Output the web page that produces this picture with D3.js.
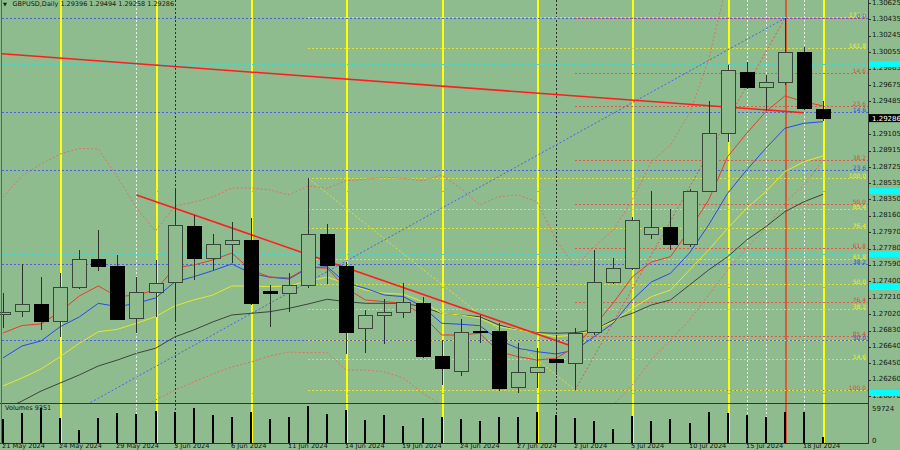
<!DOCTYPE html>
<html><head><meta charset="utf-8">
<script src="https://cdn.jsdelivr.net/npm/d3@7"></script>
<style>body{margin:0;background:#8FBC8F;overflow:hidden}svg{display:block}text{font-family:"DejaVu Sans",sans-serif}</style>
</head><body><svg id="c" width="900" height="450"></svg>
<script>
// ---------- data ----------
const dates = ["2024-05-21","2024-05-22","2024-05-23","2024-05-24","2024-05-27","2024-05-28","2024-05-29","2024-05-30","2024-05-31","2024-06-03","2024-06-04","2024-06-05","2024-06-06","2024-06-07","2024-06-10","2024-06-11","2024-06-12","2024-06-13","2024-06-14","2024-06-17","2024-06-18","2024-06-19","2024-06-20","2024-06-21","2024-06-24","2024-06-25","2024-06-26","2024-06-27","2024-06-28","2024-07-01","2024-07-02","2024-07-03","2024-07-04","2024-07-05","2024-07-08","2024-07-09","2024-07-10","2024-07-11","2024-07-12","2024-07-15","2024-07-16","2024-07-17","2024-07-18","2024-07-19"];
const opens  = [1.27019,1.27049,1.27127,1.26933,1.27332,1.27648,1.27570,1.26973,1.27274,1.27390,1.28034,1.27660,1.27822,1.27868,1.27281,1.27262,1.27358,1.27946,1.27578,1.26849,1.27003,1.27042,1.27146,1.26528,1.26354,1.26817,1.26817,1.26168,1.26347,1.26498,1.26451,1.26806,1.27385,1.27552,1.27946,1.28022,1.27822,1.28447,1.29116,1.29818,1.29644,1.29702,1.30054,1.29396];
const highs  = [1.27266,1.27602,1.27454,1.27494,1.27764,1.27995,1.27706,1.27454,1.27648,1.28459,1.28169,1.27949,1.28085,1.28131,1.27358,1.27494,1.28594,1.28065,1.27628,1.27069,1.27196,1.27385,1.27216,1.26721,1.26961,1.27011,1.26915,1.26690,1.26625,1.26780,1.26857,1.27764,1.27668,1.28150,1.28451,1.28235,1.28470,1.29493,1.29907,1.29945,1.29791,1.30448,1.30119,1.29494];
const lows   = [1.26860,1.26988,1.26837,1.26752,1.27312,1.27524,1.26953,1.26799,1.26991,1.26933,1.27416,1.27532,1.27610,1.27127,1.26868,1.27049,1.27320,1.27370,1.26559,1.26574,1.26675,1.26973,1.26509,1.26200,1.26304,1.26690,1.26134,1.26104,1.26168,1.26316,1.26142,1.26779,1.27370,1.27532,1.27891,1.27764,1.27802,1.28436,1.29018,1.29625,1.29386,1.29675,1.29386,1.29258];
const closes = [1.27042,1.27127,1.26933,1.27332,1.27648,1.27578,1.26964,1.27274,1.27378,1.28042,1.27660,1.27830,1.27876,1.27146,1.27262,1.27358,1.27946,1.27587,1.26810,1.27003,1.27042,1.27153,1.26528,1.26393,1.26810,1.26806,1.26162,1.26347,1.26400,1.26458,1.26799,1.27385,1.27552,1.28111,1.28022,1.27822,1.28447,1.29108,1.29849,1.29649,1.29702,1.30054,1.29405,1.29286];
const volumes = [38740,48910,56010,40350,20980,40350,48910,46810,51170,50040,56010,45680,41480,50040,38740,41480,59724,46810,53270,37130,45680,27440,40350,41970,38260,35510,41480,42450,50040,45680,39870,35510,22110,43580,35510,38740,32280,50040,48910,44710,41970,49550,50040,9351];

const maRed    = [1.26802,1.26889,1.26907,1.27049,1.27231,1.27347,1.27223,1.27242,1.27300,1.27555,1.27590,1.27648,1.27729,1.27532,1.27451,1.27439,1.27563,1.27552,1.27320,1.27185,1.27165,1.27146,1.27011,1.26779,1.26779,1.26799,1.26586,1.26528,1.26489,1.26509,1.26640,1.26883,1.27150,1.27451,1.27625,1.27686,1.27995,1.28343,1.28845,1.29116,1.29366,1.29548,1.29482,1.29432];
const maBlue   = [1.26513,1.26652,1.26710,1.26875,1.26988,1.27146,1.27107,1.27146,1.27208,1.27393,1.27454,1.27524,1.27602,1.27494,1.27448,1.27428,1.27555,1.27570,1.27378,1.27320,1.27242,1.27223,1.27107,1.26915,1.26903,1.26887,1.26721,1.26625,1.26586,1.26559,1.26605,1.26759,1.26915,1.27185,1.27393,1.27494,1.27729,1.28053,1.28421,1.28691,1.28942,1.29174,1.29232,1.29250];
const maYellow = [1.26188,1.26281,1.26385,1.26528,1.26683,1.26817,1.26845,1.26915,1.26991,1.27115,1.27185,1.27242,1.27347,1.27347,1.27339,1.27347,1.27405,1.27448,1.27378,1.27300,1.27262,1.27251,1.27165,1.27030,1.27011,1.26973,1.26875,1.26837,1.26799,1.26759,1.26779,1.26837,1.26933,1.27088,1.27223,1.27300,1.27532,1.27764,1.28015,1.28247,1.28439,1.28671,1.28787,1.28853];
const maGray   = [1.25910,1.26014,1.26130,1.26223,1.26316,1.26420,1.26489,1.26567,1.26625,1.26756,1.26837,1.26930,1.27011,1.27030,1.27049,1.27088,1.27138,1.27193,1.27165,1.27146,1.27146,1.27146,1.27107,1.27030,1.27011,1.26991,1.26895,1.26837,1.26806,1.26799,1.26806,1.26837,1.26953,1.27030,1.27127,1.27185,1.27358,1.27532,1.27686,1.27880,1.28034,1.28207,1.28323,1.28409];
const bandUpper = [1.28378,1.28621,1.28760,1.28876,1.28940,1.28934,1.28610,1.28250,1.27984,1.28273,1.28320,1.28378,1.28482,1.28482,1.28459,1.28401,1.28505,1.28479,1.28567,1.28583,1.28606,1.28594,1.28567,1.28633,1.28479,1.28285,1.28381,1.28401,1.28323,1.27880,1.27570,1.27802,1.27995,1.28343,1.28787,1.28980,1.29347,1.29965,1.30892,1.31123,1.31297,1.31471,1.31471,1.31413];
const bandLower = [1.25563,1.25563,1.25563,1.25620,1.25678,1.25736,1.25794,1.25910,1.26026,1.26142,1.26235,1.26327,1.26408,1.26466,1.26536,1.26582,1.26574,1.26574,1.26374,1.26374,1.26350,1.26281,1.26107,1.25968,1.25910,1.25887,1.25794,1.25736,1.25736,1.25794,1.25736,1.25794,1.25968,1.26200,1.26489,1.26721,1.26953,1.27242,1.27532,1.27787,1.28019,1.28308,1.28517,1.28806];

const priceTicks = [1.30625,1.30435,1.30245,1.30055,1.29865,1.29675,1.29485,1.29105,1.28915,1.28725,1.28535,1.28350,1.28160,1.27970,1.27780,1.27590,1.27400,1.27210,1.27020,1.26830,1.26640,1.26450,1.26260,1.26070];
const dateLabelIdx = [0,3,6,9,12,15,18,21,24,27,30,33,36,39,42];
const dateLabels = ["21 May 2024","24 May 2024","29 May 2024","3 Jun 2024","6 Jun 2024","11 Jun 2024","14 Jun 2024","19 Jun 2024","24 Jun 2024","27 Jun 2024","2 Jul 2024","5 Jul 2024","10 Jul 2024","15 Jul 2024","18 Jul 2024"];

const fibLevels = [0,14.6,23.6,38.2,50,61.8,76.4,85.4,100,161.8,176.4];
// [index, price] of 100% anchor and 0% anchor
const fibRed    = [[30,1.26142],[41,1.30448]];
const fibYellow = [[16,1.28594],[30,1.26142]];
const fibBlue   = [[-20,1.22990],[41,1.30448]];
// level labels that sit exactly under another fibo's label
const hiddenLabels = ["red:0.0","yellow:0.0","yellow:23.6"];
const trendLong  = [[-5,1.30117],[42,1.29354]];
const trendShort = [[7,1.28401],[30,1.26637]];
const cyanLevels = [1.29915,1.28444,1.27714,1.27335,1.26107];
const vYellow = [3,8,13,18,23,28,33,38,43];
const vWhite = [7,39,40,42];
const vBlack = [9,29];
const vRed = [41];
const title = "GBPUSD,Daily 1.29396 1.29494 1.29258 1.29286";
const lastPrice = 1.29286;
const volMax = 59724;
const volLabel = "Volumes 9351";

// ---------- drawing ----------
const svg = d3.select("#c");
const BG = "#8FBC8F";
const plotL = 2, plotR = 868, mainBot = 403, volBot = 443;
const x = d3.scaleLinear().domain([0,43]).range([3,823]);
const y = d3.scaleLinear().domain([1.25991,1.30660]).range([mainBot,0]);
const yv = d3.scaleLinear().domain([0,volMax]).range([volBot,406]);
const px = i => Math.round(x(i)) + 0.5;

svg.append("rect").attr("width",900).attr("height",450).attr("fill",BG);
const defs = svg.append("defs");
defs.append("clipPath").attr("id","mc").append("rect").attr("x",plotL).attr("y",0).attr("width",plotR-plotL).attr("height",mainBot);
defs.append("clipPath").attr("id","fc").append("rect").attr("x",plotL).attr("y",0).attr("width",plotR-plotL).attr("height",volBot);

// vertical lines
const gv = svg.append("g").attr("clip-path","url(#fc)").attr("shape-rendering","crispEdges");
function vlines(arr, color, w, dash){
  gv.selectAll(null).data(arr).enter().append("line")
    .attr("x1",d=>px(d)).attr("x2",d=>px(d)).attr("y1",0).attr("y2",volBot)
    .attr("stroke",color).attr("stroke-width",w).attr("stroke-dasharray",dash||null);
}
vlines(vYellow,"#ffff00",2);
vlines(vWhite,"#e8f0e8",1,"2,2");
vlines(vBlack,"#303030",1,"2,2");
vlines(vRed,"#d85a3a",2);

// horizontal fibo & cyan lines
const gm = svg.append("g").attr("clip-path","url(#mc)");
const gh = gm.append("g").attr("shape-rendering","crispEdges");
cyanLevels.forEach(p=>{
  gh.append("line").attr("x1",plotL).attr("x2",plotR).attr("y1",Math.round(y(p))+0.5).attr("y2",Math.round(y(p))+0.5)
    .attr("stroke","#48d8c8").attr("stroke-width",1).attr("stroke-dasharray","3,2");
});
const labels = [];
function fibo(name, f, color, labColor){
  const [a100,a0] = f;
  const xs = Math.max(plotL, x(Math.min(a100[0],a0[0])));
  fibLevels.forEach(l=>{
    const p = a0[1] + (a100[1]-a0[1])*l/100;
    const yy = Math.round(y(p))+0.5;
    if (yy < 0 || yy > mainBot) return;
    gh.append("line").attr("x1",xs).attr("x2",plotR).attr("y1",yy).attr("y2",yy)
      .attr("stroke",color).attr("stroke-width",1).attr("stroke-dasharray","2,2");
    if (!hiddenLabels.includes(name+":"+l.toFixed(1))) labels.push({t:l.toFixed(1), y:yy, c:labColor});
  });
  gm.append("line").attr("x1",x(a100[0])).attr("y1",y(a100[1])).attr("x2",x(a0[0])).attr("y2",y(a0[1]))
    .attr("stroke",color).attr("stroke-width",1).attr("stroke-dasharray","2,2");
}
fibo("red",fibRed,"#e0584a","#e0483a");
fibo("yellow",fibYellow,"#e0e030","#f0f020");
fibo("blue",fibBlue,"#4a62e8","#3050f0");

// candles
const gc = svg.append("g").attr("shape-rendering","crispEdges");
dates.forEach((d,i)=>{
  const cx = px(i);
  gc.append("line").attr("x1",cx).attr("x2",cx).attr("y1",y(highs[i])).attr("y2",y(lows[i]))
    .attr("stroke","#2a322a").attr("stroke-width",1);
  const bull = closes[i] >= opens[i];
  const yt = y(Math.max(opens[i],closes[i])), yb = y(Math.min(opens[i],closes[i]));
  gc.append("rect").attr("x",cx-7).attr("width",14).attr("y",yt).attr("height",Math.max(1,yb-yt))
    .attr("fill",bull?BG:"#000").attr("stroke",bull?"#3a463a":"#000").attr("stroke-width",1);
});

// bands & MAs
const line = d3.line().x((d,i)=>x(i)).y(d=>y(d));
[[bandUpper,"#e07060"],[bandLower,"#e07060"]].forEach(([arr,c])=>{
  gm.append("path").attr("d",line(arr)).attr("fill","none").attr("stroke",c).attr("stroke-width",1).attr("stroke-dasharray","2,2");
});
[[maGray,"#3c443c"],[maYellow,"#e8e828"],[maBlue,"#2848f0"],[maRed,"#f03828"]].forEach(([arr,c])=>{
  gm.append("path").attr("d",line(arr)).attr("fill","none").attr("stroke",c).attr("stroke-width",1);
});

// trend lines
[trendLong,trendShort].forEach(t=>{
  gm.append("line").attr("x1",x(t[0][0])).attr("y1",y(t[0][1])).attr("x2",x(t[1][0])).attr("y2",y(t[1][1]))
    .attr("stroke","#ff1c1c").attr("stroke-width",1.6);
});

// fibo labels
labels.forEach(l=>{
  svg.append("text").attr("x",866).attr("y",l.y-0.5).attr("text-anchor","end")
    .attr("font-size","6px").attr("fill",l.c).text(l.t);
});

// volumes
const gvol = svg.append("g").attr("shape-rendering","crispEdges");
volumes.forEach((v,i)=>{
  gvol.append("rect").attr("x",Math.round(x(i))-1).attr("width",2).attr("y",yv(v)).attr("height",volBot-yv(v)).attr("fill","#000");
});

// frame
const gf = svg.append("g").attr("shape-rendering","crispEdges");
gf.append("line").attr("x1",0).attr("x2",plotR).attr("y1",mainBot+0.5).attr("y2",mainBot+0.5).attr("stroke","#2e3a2e").attr("stroke-width",1.5);
gf.append("line").attr("x1",0).attr("x2",plotR).attr("y1",volBot+0.5).attr("y2",volBot+0.5).attr("stroke","#2e3a2e");
gf.append("line").attr("x1",plotR+0.5).attr("x2",plotR+0.5).attr("y1",0).attr("y2",volBot+1).attr("stroke","#2e3a2e");
gf.append("line").attr("x1",1.5).attr("x2",1.5).attr("y1",0).attr("y2",volBot+1).attr("stroke","#5a665a");

// right price axis
priceTicks.forEach(p=>{
  gf.append("line").attr("x1",plotR).attr("x2",plotR+3).attr("y1",Math.round(y(p))+0.5).attr("y2",Math.round(y(p))+0.5).attr("stroke","#2e3a2e");
  svg.append("text").attr("x",872).attr("y",y(p)+1.5).attr("font-size","7px").attr("fill","#101810").text(p.toFixed(5));
});
cyanLevels.forEach(p=>{
  svg.append("rect").attr("x",plotR+1).attr("y",y(p)-3).attr("width",900-plotR-1).attr("height",6).attr("fill","#00ffff");
});
svg.append("rect").attr("x",plotR+1).attr("y",y(lastPrice)-4.5).attr("width",900-plotR-1).attr("height",8).attr("fill","#000");
svg.append("text").attr("x",872).attr("y",y(lastPrice)+2).attr("font-size","7px").attr("fill","#fff").text(lastPrice.toFixed(5));

// volume axis
svg.append("text").attr("x",872).attr("y",yv(volMax)+4.5).attr("font-size","7px").attr("fill","#101810").text(String(volMax));
svg.append("text").attr("x",872).attr("y",volBot).attr("font-size","7px").attr("fill","#101810").text("0");
svg.append("text").attr("x",5).attr("y",409.5).attr("font-size","6.5px").attr("fill","#101810").text(volLabel);

// date axis
dateLabelIdx.forEach((idx,k)=>{
  gf.append("line").attr("x1",px(idx)).attr("x2",px(idx)).attr("y1",volBot).attr("y2",volBot+2).attr("stroke","#2e3a2e");
  svg.append("text").attr("x",Math.round(x(idx))-1).attr("y",448.3).attr("font-size","6.6px").attr("fill","#101810").text(dateLabels[k]);
});

// title
svg.append("text").attr("x",3).attr("y",5.5).attr("font-size","5px").attr("fill","#101810").text("▼");
svg.append("text").attr("x",12.5).attr("y",6).attr("font-size","6.5px").attr("fill","#101810").text(title);
</script></body></html>
